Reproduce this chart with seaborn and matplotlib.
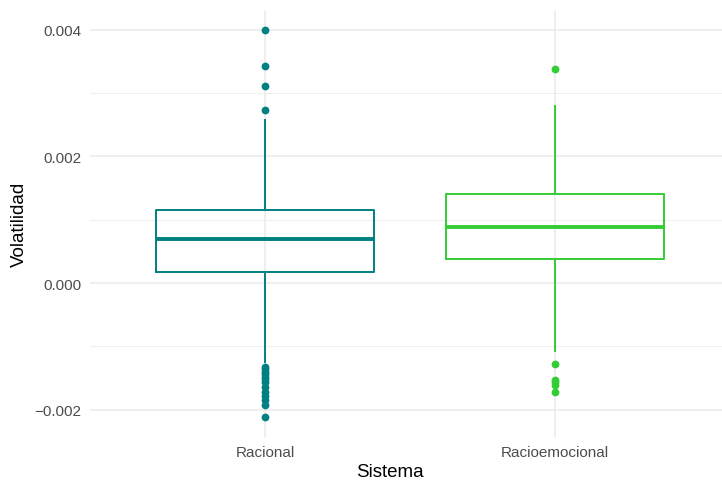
import numpy as np
import pandas as pd
import matplotlib
matplotlib.use("Agg")
import matplotlib.pyplot as plt
from matplotlib.ticker import MultipleLocator
import seaborn as sns

# Daily volatility observed under each decision system
categorias = ["Racional", "Racioemocional"]

racional = [
    # low outliers
    -0.002117, -0.001927, -0.001848, -0.001781, -0.001727, -0.001648, -0.001560,
    -0.001517, -0.001480, -0.001438, -0.001401, -0.001359, -0.001322,
    # body
    -0.00126, -0.00062, 0.000174,
    0.00021, 0.00025, 0.00029, 0.00033, 0.00036, 0.00040, 0.00044,
    0.00047, 0.00051, 0.00054, 0.00058, 0.00061, 0.00064, 0.00067,
    0.000695,
    0.00072, 0.00075, 0.00078, 0.00081, 0.00084, 0.00087, 0.00090,
    0.00093, 0.00096, 0.00099, 0.00102, 0.00105, 0.00108, 0.00111,
    0.001153,
    0.00122, 0.00130, 0.00138, 0.00147, 0.00156, 0.00166, 0.00177,
    0.00190, 0.00207, 0.00229, 0.00259,
    # high outliers
    0.00273, 0.00311, 0.00343, 0.00400,
]

racioemocional = [
    # low outliers
    -0.00173, -0.00161, -0.00157, -0.00153, -0.00128,
    # body
    -0.00109, -0.00078, -0.00049, -0.00024, -0.00003, 0.00015, 0.00028,
    0.000379,
    0.00042, 0.00047, 0.00051, 0.00056, 0.00060, 0.00065, 0.00069,
    0.00073, 0.00077, 0.00081, 0.00085,
    0.000885,
    0.00093, 0.00097, 0.00101, 0.00106, 0.00110, 0.00115, 0.00119,
    0.00124, 0.00128, 0.00132, 0.00137,
    0.001406,
    0.00146, 0.00153, 0.00160, 0.00168, 0.00177, 0.00187, 0.00199,
    0.00213, 0.00230, 0.00252, 0.00281,
    # high outlier
    0.00338,
]

colores = {"Racional": "#008080", "Racioemocional": "#32CD32"}

df = pd.DataFrame({
    "Sistema": ["Racional"] * len(racional) + ["Racioemocional"] * len(racioemocional),
    "Volatilidad": racional + racioemocional,
})

sns.set_theme(style="white")
plt.rcParams["font.family"] = ["Liberation Sans", "DejaVu Sans"]

W, H = 722, 481
left_px, top_px, bottom_px = 90, 11.6, 437.5
fig = plt.figure(figsize=(W / 100, H / 100), dpi=100)
ax = fig.add_axes([left_px / W, 1 - bottom_px / H, (W - left_px) / W, (bottom_px - top_px) / H])
ax_w, ax_h = W - left_px, bottom_px - top_px

sns.boxplot(
    data=df, x="Sistema", y="Volatilidad", hue="Sistema",
    order=categorias, hue_order=categorias, palette=colores,
    dodge=False, fill=False, width=0.75, showcaps=False, whis=1.5,
    linewidth=1.4, legend=False, ax=ax,
    medianprops=dict(linewidth=2.8),
    flierprops=dict(marker="o", markersize=5.6, markeredgewidth=0),
    zorder=3,
)

# solid outlier dots in each box's colour
for line in ax.lines:
    if line.get_marker() == "o":
        c = line.get_markeredgecolor()
        line.set_markerfacecolor(c)
        line.set_markeredgecolor(c)

ax.set_xlim(-(265 - 90) / 290, 1 + (722 - 555) / 290)
ax.set_ylim(-0.002426, 0.004306)
ax.yaxis.set_major_locator(MultipleLocator(0.002))
ax.yaxis.set_minor_locator(MultipleLocator(0.001))
ax.yaxis.set_major_formatter(
    matplotlib.ticker.FuncFormatter(lambda v, p: f"{v:.3f}".replace("-", "\u2212"))
)

ax.grid(True, which="major", axis="both", color="#EBEBEB", linewidth=1.1, zorder=0)
ax.grid(True, which="minor", axis="y", color="#EBEBEB", linewidth=0.55, zorder=0)
ax.set_axisbelow(True)
for s in ax.spines.values():
    s.set_visible(False)
ax.tick_params(axis="both", which="both", length=0, labelsize=11, labelcolor="#4D4D4D")
ax.tick_params(axis="x", pad=6)
ax.tick_params(axis="y", pad=6)

ax.set_xlabel("Sistema", fontsize=13.5, color="black")
ax.set_ylabel("Volatilidad", fontsize=13.5, color="black")
ax.xaxis.set_label_coords((390 - left_px) / ax_w, -(464 - bottom_px) / ax_h)
ax.yaxis.set_label_coords(-(left_px - 28) / ax_w, 0.5)

fig.savefig("out.png", dpi=100, facecolor="white")
